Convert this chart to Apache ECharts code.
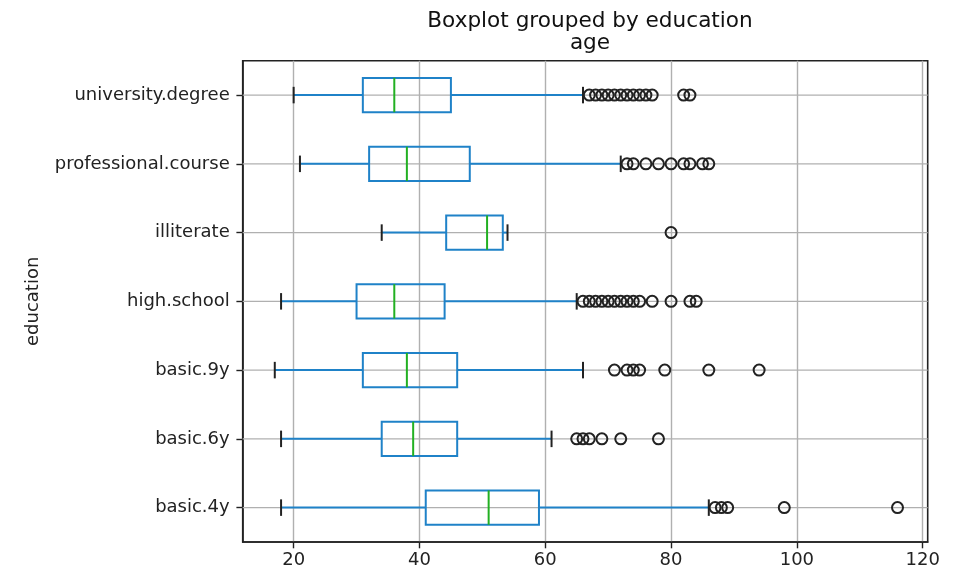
<!DOCTYPE html>
<html>
<head>
<meta charset="utf-8">
<script src="https://cdn.jsdelivr.net/npm/echarts@6/dist/echarts.min.js"></script>
<style>html,body{margin:0;padding:0;background:#fff}#c{width:955px;height:574px}</style>
</head>
<body>
<div id="c"></div>
<script>
// ---- data ----
const categories = ['basic.4y', 'basic.6y', 'basic.9y', 'high.school', 'illiterate', 'professional.course', 'university.degree'];
const whiskerLow  = [18, 18, 17, 18, 34, 21, 20];
const q1Values    = [41, 34, 31, 30, 44.25, 32, 31];
const medians     = [51, 39, 38, 36, 50.75, 38, 36];
const q3Values    = [59, 46, 46, 44, 53.25, 48, 45];
const whiskerHigh = [86, 61, 66, 65, 54, 72, 66];
const outliersBasic4y = [87, 88, 89, 98, 116];
const outliersBasic6y = [65, 66, 67, 69, 72, 78];
const outliersBasic9y = [71, 73, 74, 75, 79, 86, 94];
const outliersHighSchool = [66, 67, 68, 69, 70, 71, 72, 73, 74, 75, 77, 80, 83, 84];
const outliersIlliterate = [80];
const outliersProfessional = [73, 74, 76, 78, 80, 82, 83, 85, 86];
const outliersUniversity = [67, 68, 69, 70, 71, 72, 73, 74, 75, 76, 77, 82, 83];
const xTicks = [20, 40, 60, 80, 100, 120];

const outlierLists = [outliersBasic4y, outliersBasic6y, outliersBasic9y, outliersHighSchool,
  outliersIlliterate, outliersProfessional, outliersUniversity];

const boxData = categories.map((c, i) => [i, whiskerLow[i], q1Values[i], medians[i], q3Values[i], whiskerHigh[i]]);
const flierData = [];
outlierLists.forEach((arr, i) => arr.forEach(v => flierData.push([v, i])));

const FONT = 'DejaVu Sans';
const BLUE = '#1f82c8', GREEN = '#22b022', LW = 2;

function renderBox(params, api) {
  const cat = api.value(0);
  const lo = api.value(1), q1 = api.value(2), med = api.value(3), q3 = api.value(4), hi = api.value(5);
  const band = api.size([0, 1])[1];
  const pLo = api.coord([lo, cat]);
  const pQ1 = api.coord([q1, cat]);
  const pMed = api.coord([med, cat]);
  const pQ3 = api.coord([q3, cat]);
  const pHi = api.coord([hi, cat]);
  const yc = pQ1[1];
  const bh = band * 0.5;
  const ch = band * 0.24;
  const cs = params.coordSys;
  const children = [
    { type: 'line', shape: { x1: cs.x, y1: yc, x2: cs.x + cs.width, y2: yc },
      style: { stroke: '#b0b0b0', lineWidth: 1.4 }, z2: 0 },
    { type: 'line', shape: { x1: pLo[0], y1: yc, x2: pQ1[0], y2: yc }, style: { stroke: BLUE, lineWidth: LW }, z2: 1 },
    { type: 'line', shape: { x1: pQ3[0], y1: yc, x2: pHi[0], y2: yc }, style: { stroke: BLUE, lineWidth: LW }, z2: 1 },
    { type: 'rect', shape: { x: pQ1[0], y: yc - bh / 2, width: pQ3[0] - pQ1[0], height: bh },
      style: { stroke: BLUE, fill: null, lineWidth: LW }, z2: 2 },
    { type: 'line', shape: { x1: pMed[0], y1: yc - bh / 2, x2: pMed[0], y2: yc + bh / 2 }, style: { stroke: GREEN, lineWidth: LW }, z2: 3 },
    { type: 'line', shape: { x1: pLo[0], y1: yc - ch / 2, x2: pLo[0], y2: yc + ch / 2 }, style: { stroke: '#222', lineWidth: LW }, z2: 3 },
    { type: 'line', shape: { x1: pHi[0], y1: yc - ch / 2, x2: pHi[0], y2: yc + ch / 2 }, style: { stroke: '#222', lineWidth: LW }, z2: 3 }
  ];
  return { type: 'group', children };
}

const chart = echarts.init(document.getElementById('c'), null, { renderer: 'canvas' });
chart.setOption({
  animation: false,
  backgroundColor: '#fff',
  title: [
    { text: 'Boxplot grouped by education', left: 585, textAlign: 'center', top: 5,
      textStyle: { fontFamily: FONT, fontSize: 21.6, fontWeight: 'normal', color: '#111' } },
    { text: 'age', left: 585, textAlign: 'center', top: 27,
      textStyle: { fontFamily: FONT, fontSize: 21.6, fontWeight: 'normal', color: '#111' } }
  ],
  grid: { left: 242.7, right: 27.3, top: 60.7, bottom: 32, show: true, borderColor: '#222', borderWidth: 1.6, containLabel: false },
  xAxis: {
    type: 'value', min: 11.9, max: 120.8,
    axisLine: { show: true, lineStyle: { color: '#222', width: 1.6 } },
    axisTick: { show: true, length: 6.3, lineStyle: { color: '#222', width: 1.4 }, customValues: xTicks },
    axisLabel: { fontFamily: FONT, fontSize: 18, color: '#222', margin: 9, customValues: xTicks },
    splitLine: { show: true, lineStyle: { color: '#b0b0b0', width: 1.4 } }
  },
  yAxis: {
    type: 'category', data: categories,
    name: 'education', nameLocation: 'middle', nameRotate: 90, nameGap: 200,
    nameTextStyle: { fontFamily: FONT, fontSize: 18, color: '#222' },
    axisLine: { show: true, lineStyle: { color: '#222', width: 1.6 } },
    axisTick: { show: true, alignWithLabel: true, length: 6.3, lineStyle: { color: '#222', width: 1.4 } },
    axisLabel: { fontFamily: FONT, fontSize: 18, color: '#222', margin: 13 },
    splitLine: { show: false }
  },
  series: [
    { type: 'custom', renderItem: renderBox, data: boxData, encode: { x: [1, 2, 3, 4, 5], y: 0 }, z: 2 },
    { type: 'scatter', data: flierData, symbol: 'circle', symbolSize: 11,
      itemStyle: { color: 'rgba(0,0,0,0)', borderColor: '#222', borderWidth: 2, opacity: 1 }, z: 3 }
  ]
});
</script>
</body>
</html>
